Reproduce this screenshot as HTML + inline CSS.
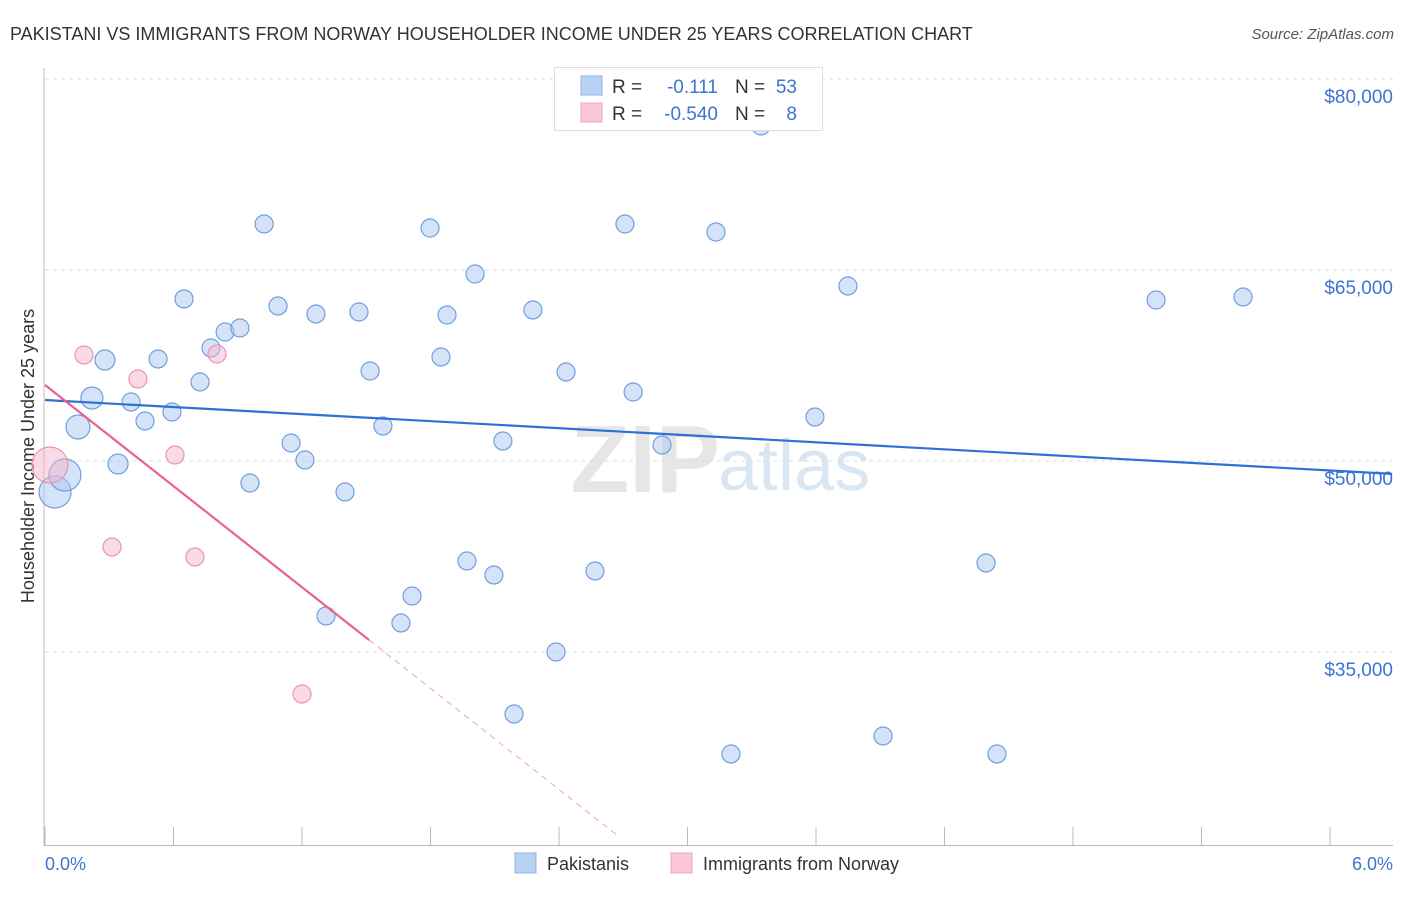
<!DOCTYPE html>
<html><head><meta charset="utf-8"><style>
body{margin:0;background:#fff;font-family:"Liberation Sans",sans-serif}
svg text{font-family:"Liberation Sans",sans-serif}
</style></head><body>
<svg id="c" width="1406" height="892">
<text x="10" y="40" font-size="18" fill="#333">PAKISTANI VS IMMIGRANTS FROM NORWAY HOUSEHOLDER INCOME UNDER 25 YEARS CORRELATION CHART</text>
<text x="1394" y="39" font-size="15" fill="#555" font-style="italic" text-anchor="end">Source: ZipAtlas.com</text>
<text x="720" y="492" font-size="96" fill="#e6e6e6" text-anchor="end" font-family="Liberation Serif" font-weight="bold">ZIP</text>
<text x="718" y="490" font-size="72" fill="#dbe6f5">atlas</text>
<g id="grid"></g>
<line x1="44" y1="68" x2="44" y2="846" stroke="#bbb"/>
<line x1="44" y1="845.5" x2="1393" y2="845.5" stroke="#bbb"/>
<g id="ticks"></g>
<text transform="translate(34,456) rotate(-90)" font-size="18" fill="#333" text-anchor="middle">Householder Income Under 25 years</text>
<text x="45" y="870" font-size="18" fill="#3d74d0">0.0%</text>
<text x="1393" y="870" font-size="18" fill="#3d74d0" text-anchor="end">6.0%</text>
<g id="pts"></g>
<g id="lines"></g>
<g>
<rect x="554.5" y="67.5" width="268" height="63" fill="#fff" stroke="#ddd"/>
<rect x="581" y="76" width="21" height="19" fill="#b8d2f4" stroke="#8fb3e8"/>
<rect x="581" y="103" width="21" height="19" fill="#f8c6d5" stroke="#eda6bd"/>
<text x="612" y="93" font-size="19" fill="#333">R =</text>
<text x="718" y="93" font-size="19" fill="#3d74d0" text-anchor="end">-0.111</text>
<text x="735" y="93" font-size="19" fill="#333">N =</text>
<text x="797" y="93" font-size="19" fill="#3d74d0" text-anchor="end">53</text>
<text x="612" y="120" font-size="19" fill="#333">R =</text>
<text x="718" y="120" font-size="19" fill="#3d74d0" text-anchor="end">-0.540</text>
<text x="735" y="120" font-size="19" fill="#333">N =</text>
<text x="797" y="120" font-size="19" fill="#3d74d0" text-anchor="end">8</text>
</g>
<g>
<rect x="515" y="853" width="21" height="20" fill="#b8d2f4" stroke="#8fb3e8"/>
<text x="547" y="870" font-size="18" fill="#333">Pakistanis</text>
<rect x="671" y="853" width="21" height="20" fill="#f8c6d5" stroke="#eda6bd"/>
<text x="703" y="870" font-size="18" fill="#333">Immigrants from Norway</text>
</g>
</svg>
<script>
const yTicks=[35000,50000,65000,80000];
const yTickLabels=["$35,000","$50,000","$65,000","$80,000"];
const xTicks=[0,0.6,1.2,1.8,2.4,3.0,3.6,4.2,4.8,5.4,6.0];
const pakX=[0.047,0.093,0.154,0.219,0.28,0.341,0.402,0.467,0.528,0.593,0.649,0.724,0.775,0.841,0.91,0.957,1.023,1.088,1.149,1.214,1.265,1.312,1.401,1.466,1.518,1.578,1.662,1.714,1.798,1.849,1.877,1.97,2.008,2.096,2.138,2.19,2.278,2.386,2.433,2.568,2.708,2.746,2.881,3.133,3.203,3.343,3.595,3.749,3.913,4.394,4.445,5.188,5.594];
const pakY=[47566,48901,52671,54948,57932,49765,54634,53142,58011,53849,62723,56205,58875,60131,60445,48273,68612,62173,51414,50079,61545,37829,47566,61702,57068,52749,37279,39399,68298,58168,61466,42148,64686,41048,51571,30133,61859,35002,56990,41362,68612,55419,51257,67984,26991,76308,53456,63744,28405,41991,26991,62644,62880];
const pakSize=[16,16,12,11,10,10,9,9,9,9,9,9,9,9,9,9,9,9,9,9,9,9,9,9,9,9,9,9,9,9,9,9,9,9,9,9,9,9,9,9,9,9,9,9,9,9,9,9,9,9,9,9,9];
const norX=[0.023,0.182,0.434,0.803,0.607,0.313,0.7,1.2];
const norY=[49687,58325,56440,58403,50472,43247,42462,31703];
const norSize=[18,9,9,9,9,9,9,9];
const pakTrend=[54791,49254];
const norTrend=[55969,35944];
const norTrendSolidEnd=1.513, norTrendDashEnd=2.685;
const X=v=>45+v*1285/6, Y=v=>270-(v-65000)*191/15000;
const NS="http://www.w3.org/2000/svg";
function mk(t,a,p){const e=document.createElementNS(NS,t);for(const k in a)e.setAttribute(k,a[k]);document.getElementById(p).appendChild(e);return e;}
yTicks.forEach((v,i)=>{
 const l=mk('line',{x1:45,x2:1393,y1:Y(v),y2:Y(v),stroke:'#ddd','stroke-dasharray':'4,4'},'grid');
 
 
 const t=mk('text',{x:1393,y:Y(v)+24,'font-size':19,fill:'#3d74d0','text-anchor':'end'},'grid');
 t.textContent=yTickLabels[i];
 
 
});
xTicks.forEach(v=>{
 const l=mk('line',{x1:X(v),x2:X(v),y1:827,y2:845,stroke:'#bbb'},'ticks');
 
 
});
pakX.forEach((v,i)=>{
 const c=mk('circle',{cx:X(v),cy:Y(pakY[i]),r:pakSize[i],fill:'rgba(169,200,240,0.5)',stroke:'#6f9fe0','stroke-width':1.2},'pts');
 
 
});
norX.forEach((v,i)=>{
 const c=mk('circle',{cx:X(v),cy:Y(norY[i]),r:norSize[i],fill:'rgba(245,184,203,0.5)',stroke:'#e994ae','stroke-width':1.2},'pts');
 
 
});
const b=mk('line',{x1:X(0),y1:Y(pakTrend[0]),x2:X(6.29),y2:Y(pakTrend[0]+(pakTrend[1]-pakTrend[0])*6.29/6),stroke:'#2f6fd6','stroke-width':2.2},'lines');


const sl=(norTrend[1]-norTrend[0])/norTrendSolidEnd;
const p=mk('line',{x1:X(0),y1:Y(norTrend[0]),x2:X(norTrendSolidEnd),y2:Y(norTrend[1]),stroke:'#e8628f','stroke-width':2.2},'lines');


const d=mk('line',{x1:X(norTrendSolidEnd),y1:Y(norTrend[1]),x2:X(norTrendDashEnd),y2:Y(norTrend[0]+sl*norTrendDashEnd),stroke:'#f0a0bb','stroke-width':1,'stroke-dasharray':'6,5'},'lines');


</script>
</body></html>
